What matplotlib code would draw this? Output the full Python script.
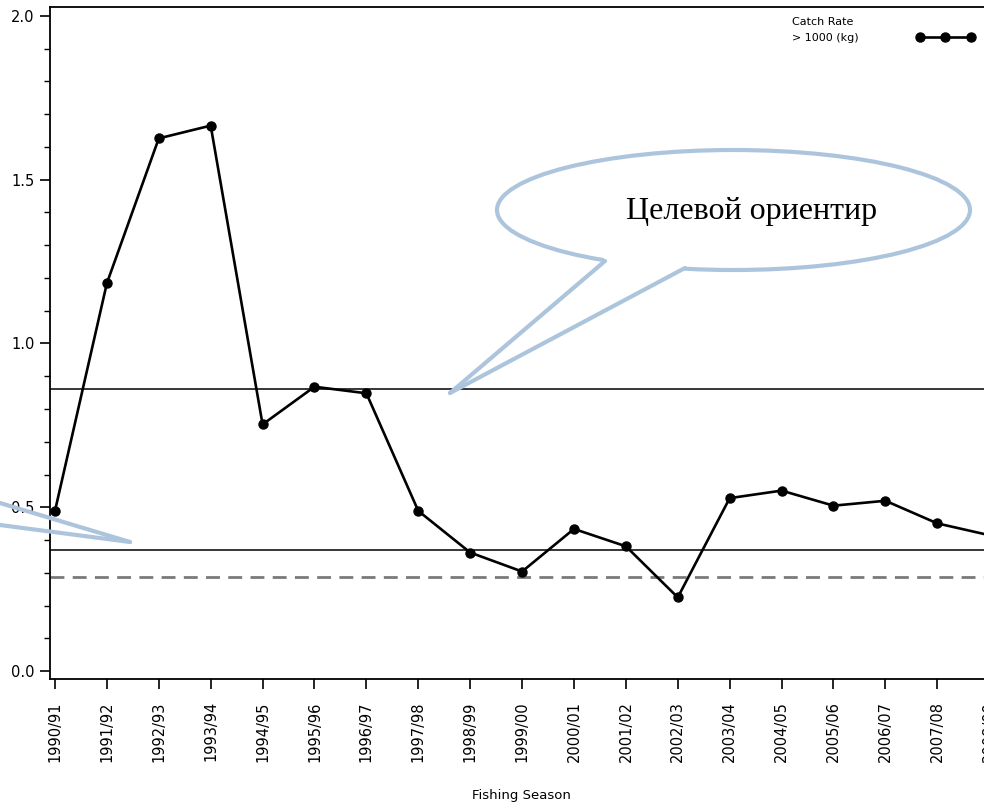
import numpy as np
import matplotlib
matplotlib.use("Agg")
import matplotlib.pyplot as plt
from matplotlib.patches import Ellipse, Polygon
from matplotlib.lines import Line2D

# data
seasons = ["1990/91", "1991/92", "1992/93", "1993/94", "1994/95", "1995/96",
           "1996/97", "1997/98", "1998/99", "1999/00", "2000/01", "2001/02",
           "2002/03", "2003/04", "2004/05", "2005/06", "2006/07", "2007/08",
           "2008/09"]
catch_rate = [0.489, 1.184, 1.626, 1.665, 0.753, 0.868, 0.848, 0.489, 0.362,
              0.304, 0.434, 0.381, 0.225, 0.528, 0.551, 0.505, 0.520, 0.451,
              0.415]
target_ref = 0.860
limit_ref = 0.369
lower_ref = 0.288
callout_text = "Целевой ориентир"

W, H = 984, 806
fig = plt.figure(figsize=(W / 100, H / 100), dpi=100)

def px(x, y):
    # pixel position -> figure fraction
    return (x / W, 1 - y / H)

# axes run past the right edge like in the cropped original
ax_l, ax_r, ax_t, ax_b = 50, 1010, 7, 679
ax = fig.add_axes([ax_l / W, 1 - ax_b / H, (ax_r - ax_l) / W, (ax_b - ax_t) / H])

x = np.arange(len(seasons))
ax.plot(x, catch_rate, color="black", lw=1.9, marker="o", ms=6.5,
        label="> 1000 (kg)", zorder=3, clip_on=False)
ax.axhline(target_ref, color="black", lw=1.1, zorder=2)
ax.axhline(limit_ref, color="black", lw=1.1, zorder=2)
ax.axhline(lower_ref, color="#7a7a7a", lw=2.0, ls=(0, (5, 3)), zorder=2)

ax.set_xlim(-0.096, -0.096 + (ax_r - ax_l) / 51.9)
ax.set_ylim(-0.024, 2.027)
ax.set_xticks(x)
ax.set_xticklabels(seasons, rotation=90, fontsize=10.5)
ax.set_yticks([0.0, 0.5, 1.0, 1.5, 2.0])
ax.set_yticklabels(["0.0", "0.5", "1.0", "1.5", "2.0"], fontsize=10.5)
ax.set_yticks(np.arange(0, 2.01, 0.1), minor=True)
ax.tick_params(axis="x", direction="out", length=7, width=1.2, pad=9)
ax.tick_params(axis="y", which="major", direction="out", length=7, width=1.2, pad=4)
ax.tick_params(axis="y", which="minor", direction="out", length=4, width=1.0)
for s in ax.spines.values():
    s.set_linewidth(1.3)

ax.set_xlabel("Fishing Season", fontsize=9.5)
ax.xaxis.set_label_coords((521 - ax_l) / (ax_r - ax_l), -(789 - ax_b) / (ax_b - ax_t))

leg = ax.legend(title="Catch Rate", loc="upper right", markerfirst=False,
                bbox_to_anchor=px(974, 17), bbox_transform=fig.transFigure,
                frameon=False, fontsize=8, title_fontsize=8, numpoints=3,
                handlelength=5.2, handletextpad=5.2, borderpad=0, borderaxespad=0)
leg._legend_box.align = "left"

# speech bubble callout
blue = "#adc5dc"
lw_c = 3.0
ell = Ellipse(px(733.5, 210), 473 / W, 120 / H, transform=fig.transFigure,
              facecolor="white", edgecolor=blue, lw=lw_c, zorder=5)
fig.patches.append(ell)
base1, tip, base2 = px(605, 261), px(450, 393), px(685, 268)
fig.patches.append(Polygon([px(603, 255), base1, tip, base2, px(687, 262)],
                           closed=True, transform=fig.transFigure,
                           facecolor="white", edgecolor="none", zorder=6))
for b in (base1, base2):
    fig.lines.append(Line2D([b[0], tip[0]], [b[1], tip[1]], color=blue, lw=lw_c,
                            solid_capstyle="round", transform=fig.transFigure, zorder=7))
fig.text(*px(752, 212), callout_text, family="Liberation Serif", fontsize=23,
         ha="center", va="center", zorder=8)

# second callout, cut off at the left edge
tip2 = px(130, 542)
for y0 in (503, 525):
    p0 = px(0, y0)
    fig.lines.append(Line2D([p0[0], tip2[0]], [p0[1], tip2[1]], color=blue, lw=lw_c,
                            solid_capstyle="round", transform=fig.transFigure, zorder=7))

fig.savefig("out.png", dpi=100)
